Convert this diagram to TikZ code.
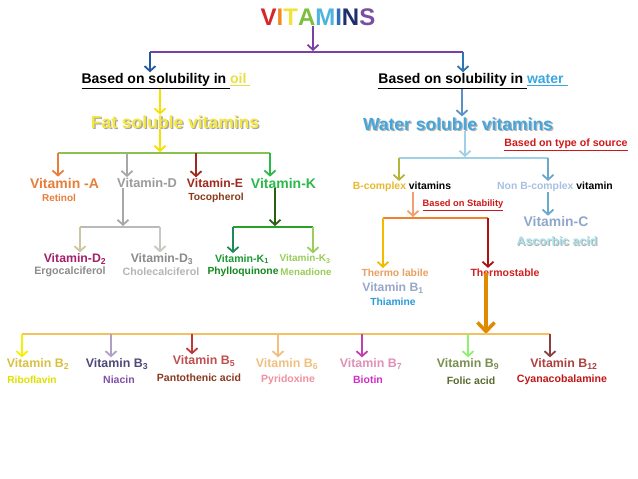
\documentclass[tikz,border=0pt]{standalone}
\usepackage{fontspec}
\setmainfont{Liberation Sans}
\usetikzlibrary{arrows.meta}
\newcommand\fsz[1]{\fontsize{#1}{#1}\selectfont}
\definecolor{cV}{HTML}{D7262A}\definecolor{cI}{HTML}{F08A24}\definecolor{cT}{HTML}{F2E33A}
\definecolor{cA}{HTML}{7BBF3F}\definecolor{cM}{HTML}{4FB3E0}\definecolor{cI2}{HTML}{2E6DB5}
\definecolor{cN}{HTML}{1F2F6B}\definecolor{cS}{HTML}{7A4FA3}
\definecolor{purp}{HTML}{7B3FA8}\definecolor{dblue}{HTML}{1F5AA0}\definecolor{mblue}{HTML}{2E75B6}
\definecolor{oilc}{HTML}{E8E040}\definecolor{fatc}{HTML}{F5E642}\definecolor{yarr}{HTML}{F5E000}
\definecolor{gbar}{HTML}{8CC152}\definecolor{vac}{HTML}{E87E3B}\definecolor{vdc}{HTML}{9B9B9B}
\definecolor{darr}{HTML}{A8A8A8}\definecolor{vec}{HTML}{A0281C}\definecolor{toc}{HTML}{8B3A1A}
\definecolor{vkc}{HTML}{2DB84B}\definecolor{d2c}{HTML}{A3206A}\definecolor{ergc}{HTML}{8C8C8C}
\definecolor{cholc}{HTML}{B5B5B5}\definecolor{d2arr}{HTML}{CCC7A0}\definecolor{d3arr}{HTML}{C8C8C0}
\definecolor{karr}{HTML}{2E5E14}\definecolor{kbar}{HTML}{2AA02A}\definecolor{k1arr}{HTML}{1E8A5A}
\definecolor{k1c}{HTML}{1A9A30}\definecolor{phyc}{HTML}{138A1E}\definecolor{k3c}{HTML}{9ACD5A}
\definecolor{watc}{HTML}{3AA8E0}\definecolor{wsc}{HTML}{45A6DC}\definecolor{srcc}{HTML}{D01818}
\definecolor{lbarr}{HTML}{9FD0E6}\definecolor{bcarr}{HTML}{B5B53A}\definecolor{bcc}{HTML}{E8B830}
\definecolor{nbarr}{HTML}{6AA8CC}\definecolor{nbc}{HTML}{A8C0E0}\definecolor{oarr}{HTML}{F0A070}
\definecolor{obar}{HTML}{F08030}\definecolor{tlarr}{HTML}{F5B800}\definecolor{tsarr}{HTML}{B01010}
\definecolor{vcc}{HTML}{8FA8CC}\definecolor{ascc}{HTML}{A8E0E8}\definecolor{tlc}{HTML}{E8A060}
\definecolor{b1c}{HTML}{98A8C8}\definecolor{thic}{HTML}{2A9AD8}\definecolor{tsc}{HTML}{D02020}
\definecolor{thk}{HTML}{E08A00}\definecolor{bbar}{HTML}{F5C060}
\definecolor{b2arr}{HTML}{F5F000}\definecolor{b2c}{HTML}{D8C040}\definecolor{riboc}{HTML}{E0E000}
\definecolor{b3arr}{HTML}{B0A0C8}\definecolor{b3c}{HTML}{504878}\definecolor{niac}{HTML}{8050A8}
\definecolor{b5arr}{HTML}{C03838}\definecolor{b5c}{HTML}{C05050}\definecolor{panc}{HTML}{8A3A20}
\definecolor{b6c}{HTML}{F0C080}\definecolor{pyrc}{HTML}{F090A0}
\definecolor{b7arr}{HTML}{C040B0}\definecolor{b7c}{HTML}{E090B8}\definecolor{bioc}{HTML}{D030C8}
\definecolor{b9arr}{HTML}{90F070}\definecolor{b9c}{HTML}{7A9050}\definecolor{folc}{HTML}{5A6A30}
\definecolor{b12arr}{HTML}{8A4040}\definecolor{b12c}{HTML}{B04040}\definecolor{cyac}{HTML}{C01818}
\tikzset{
  arr/.style={line width=1.8pt,-{Straight Barb[length=5pt,width=11pt]},shorten >=1pt},
  bar/.style={line width=2pt},
  lbl/.style={inner sep=0pt,font=\bfseries},
}
\begin{document}
\begin{tikzpicture}[x=1pt,y=-1pt]
\useasboundingbox[fill=white] (0,0) rectangle (638,479);
% title
\node[lbl,font=\bfseries\fsz{24}] (title) at (318,17) {\textcolor{cV}{V}\textcolor{cI}{I}\textcolor{cT}{T}\textcolor{cA}{A}\textcolor{cM}{M}\textcolor{cI2}{I}\textcolor{cN}{N}\textcolor{cS}{S}};
\coordinate (topJ) at (313,52);
\coordinate (topL) at (150,52);
\coordinate (topR) at (463,52);
\draw[arr,purp] (title.south -| topJ) -- (topJ);
\draw[bar,purp] (topL) -- (topR);
% left branch
\node[lbl,font=\bfseries\fsz{14}] (oil) at (166,81) {\underline{Based on solubility in }\textcolor{oilc}{\underline{oil\ }}};
\node[lbl,font=\bfseries\fsz{14}] (water) at (473,81) {\underline{Based on solubility in }\textcolor{watc}{\underline{water\ }}};
\draw[arr,dblue] (topL) -- (topL |- oil.north);
\draw[arr,mblue] (topR) -- (topR |- water.north);
\node[lbl,font=\bfseries\fsz{17.5},text=gray!70] (fatsh) at (176.3,123.5) {Fat soluble vitamins};
\node[lbl,font=\bfseries\fsz{17.5},text=fatc] (fat) at (175,122.2) {Fat soluble vitamins};
\draw[arr,yarr] ([xshift=-6pt]oil.south) -- ([xshift=-15pt]fat.north);
\coordinate (fatJ) at (160,153);
\coordinate (fbL) at (58,153);
\coordinate (fbD) at (127,153);
\coordinate (fbE) at (196,153);
\coordinate (fbR) at (270,153);
\draw[arr,yarr] ([xshift=-15pt]fat.south) -- (fatJ);
\draw[bar,gbar] (fbL) -- (fbR);
\node[lbl,font=\bfseries\fsz{14},text=vac] (vA) at (64.5,183) {Vitamin -A};
\node[lbl,font=\bfseries\fsz{10},text=vac] (ret) at (59,198) {Retinol};
\node[lbl,font=\bfseries\fsz{12.8},text=vdc] (vD) at (147,183) {Vitamin-D};
\node[lbl,font=\bfseries\fsz{12.2},text=vec] (vE) at (215,183) {Vitamin-E};
\node[lbl,font=\bfseries\fsz{10.3},text=toc] (toc) at (216,198) {Tocopherol};
\node[lbl,font=\bfseries\fsz{14},text=vkc] (vK) at (283.5,183) {Vitamin-K};
\draw[arr,vac] (fbL) -- (fbL |- vA.north);
\draw[arr,darr] (fbD) -- (fbD |- vD.north);
\draw[arr,vec] (fbE) -- (fbE |- vE.north);
\draw[arr,vkc] (fbR) -- (fbR |- vK.north);
% vitamin D split
\coordinate (dJ) at (123,227);
\coordinate (dL) at (80,227);
\coordinate (dR) at (160,227);
\draw[arr,darr] (vD.south -| dJ) -- (dJ);
\draw[bar,darr!80] (dL) -- (dR);
\node[lbl,font=\bfseries\fsz{12.3},text=d2c] (d2) at (75,259) {Vitamin-D\textsubscript{2}};
\node[lbl,font=\bfseries\fsz{10.7},text=ergc] (erg) at (70,272) {Ergocalciferol};
\node[lbl,font=\bfseries\fsz{12.3},text=ergc] (d3) at (162,259) {Vitamin-D\textsubscript{3}};
\node[lbl,font=\bfseries\fsz{10.7},text=cholc] (chol) at (161,272) {Cholecalciferol};
\draw[arr,d2arr] (dL) -- (dL |- d2.north);
\draw[arr,d3arr] (dR) -- (dR |- d3.north);
% vitamin K split
\coordinate (kJ) at (275,227);
\coordinate (kL) at (233,227);
\coordinate (kR) at (313,227);
\draw[arr,karr] (vK.south -| kJ) -- (kJ);
\draw[bar,kbar] (kL) -- (kR);
\node[lbl,font=\bfseries\fsz{10.6},text=k1c] (k1) at (242,259) {Vitamin-K\textsubscript{1}};
\node[lbl,font=\bfseries\fsz{10.3},text=phyc] (phy) at (243,272) {Phylloquinone};
\node[lbl,font=\bfseries\fsz{10},text=k3c] (k3) at (305,259) {Vitamin-K\textsubscript{3}};
\node[lbl,font=\bfseries\fsz{9.8},text=k3c] (men) at (306,272) {Menadione};
\draw[arr,k1arr] (kL) -- (kL |- k1.north);
\draw[arr,k3c] (kR) -- (kR |- k3.north);
% right branch
\node[lbl,font=\bfseries\fsz{17.5},text=gray!60] (wssh) at (459.3,125.3) {Water soluble vitamins};
\node[lbl,font=\bfseries\fsz{17.5},text=wsc] (ws) at (458,124) {Water soluble vitamins};
\draw[arr,mblue!80] ([xshift=-11pt]water.south) -- ([xshift=4pt]ws.north);
\node[lbl,font=\bfseries\fsz{10.6},text=srcc] (src) at (566,145) {\underline{Based on type of source}};
\coordinate (sJ) at (465,158);
\coordinate (sL) at (399,158);
\coordinate (sR) at (548,158);
\draw[arr,lbarr] ([xshift=7pt]ws.south) -- (sJ);
\draw[bar,lbarr] (sL) -- (sR);
\node[lbl,font=\bfseries\fsz{10.4}] (bc) at (402,187) {\textcolor{bcc}{B-complex} vitamins};
\node[lbl,font=\bfseries\fsz{10.4}] (nb) at (555,187) {\textcolor{nbc}{Non B-complex} vitamin};
\draw[arr,bcarr] (sL) -- (sL |- bc.north);
\draw[arr,nbarr] (sR) -- (sR |- nb.north);
\node[lbl,font=\bfseries\fsz{9.3},text=srcc] (stab) at (463,205) {\underline{Based on Stability}};
\coordinate (bJ) at (413,218);
\coordinate (bL) at (383,218);
\coordinate (bR) at (488,218);
\draw[arr,oarr] (bc.south -| bJ) -- (bJ);
\draw[bar,obar] (bL) -- (bR);
\node[lbl,font=\bfseries\fsz{13.9},text=vcc] (vc) at (556,222) {Vitamin-C};
\node[lbl,font=\bfseries\fsz{12.3},text=gray!60] (ascsh) at (558,242) {Ascorbic acid};
\node[lbl,font=\bfseries\fsz{12.3},text=ascc] (asc) at (557,241) {Ascorbic acid};
\draw[arr,nbarr] (nb.south -| sR) -- (sR |- vc.north);
\node[lbl,font=\bfseries\fsz{10.3},text=tlc] (tl) at (395,273) {Thermo labile};
\node[lbl,font=\bfseries\fsz{12.2},text=b1c] (b1) at (393,288) {Vitamin B\textsubscript{1}};
\node[lbl,font=\bfseries\fsz{10.3},text=thic] (thi) at (393,302) {Thiamine};
\node[lbl,font=\bfseries\fsz{10.5},text=tsc] (ts) at (505,273) {Thermostable};
\draw[arr,tlarr] (bL) -- (bL |- tl.north);
\draw[arr,tsarr] (bR) -- (bR |- ts.north);
% bottom
\coordinate (tJ) at (486,334);
\draw[thk,line width=3.5pt,-{Straight Barb[length=9pt,width=17pt]}] ([yshift=4pt]ts.south -| tJ) -- (tJ);
\coordinate (q2) at (22,334);
\coordinate (q3) at (111,334);
\coordinate (q5) at (192,334);
\coordinate (q6) at (278,334);
\coordinate (q7) at (362,334);
\coordinate (q9) at (468,334);
\coordinate (q12) at (550,334);
\draw[bar,bbar] (q2) -- (q12);
\node[lbl,font=\bfseries\fsz{12.4},text=b2c] (B2) at (38,364) {Vitamin B\textsubscript{2}};
\node[lbl,font=\bfseries\fsz{10.2},text=riboc] (ribo) at (32,380) {Riboflavin};
\node[lbl,font=\bfseries\fsz{12.4},text=b3c] (B3) at (117,364) {Vitamin B\textsubscript{3}};
\node[lbl,font=\bfseries\fsz{10.5},text=niac] (nia) at (119,380) {Niacin};
\node[lbl,font=\bfseries\fsz{12.4},text=b5c] (B5) at (204,361) {Vitamin B\textsubscript{5}};
\node[lbl,font=\bfseries\fsz{10.5},text=panc] (pan) at (199,378) {Pantothenic acid};
\node[lbl,font=\bfseries\fsz{12.4},text=b6c] (B6) at (287,364) {Vitamin B\textsubscript{6}};
\node[lbl,font=\bfseries\fsz{10.5},text=pyrc] (pyr) at (288,380) {Pyridoxine};
\node[lbl,font=\bfseries\fsz{12.4},text=b7c] (B7) at (371,364) {Vitamin B\textsubscript{7}};
\node[lbl,font=\bfseries\fsz{10.5},text=bioc] (bio) at (368,380) {Biotin};
\node[lbl,font=\bfseries\fsz{12.4},text=b9c] (B9) at (468,364) {Vitamin B\textsubscript{9}};
\node[lbl,font=\bfseries\fsz{10.5},text=folc] (fol) at (471,381) {Folic acid};
\node[lbl,font=\bfseries\fsz{12.4},text=b12c] (B12) at (564,364) {Vitamin B\textsubscript{12}};
\node[lbl,font=\bfseries\fsz{10.6},text=cyac] (cya) at (562,380) {Cyanacobalamine};
\draw[arr,b2arr] (q2) -- (q2 |- B2.north);
\draw[arr,b3arr] (q3) -- (q3 |- B3.north);
\draw[arr,b5arr] (q5) -- (q5 |- B5.north);
\draw[arr,b6c] (q6) -- (q6 |- B6.north);
\draw[arr,b7arr] (q7) -- (q7 |- B7.north);
\draw[arr,b9arr] (q9) -- (q9 |- B9.north);
\draw[arr,b12arr] (q12) -- (q12 |- B12.north);
\end{tikzpicture}
\end{document}
